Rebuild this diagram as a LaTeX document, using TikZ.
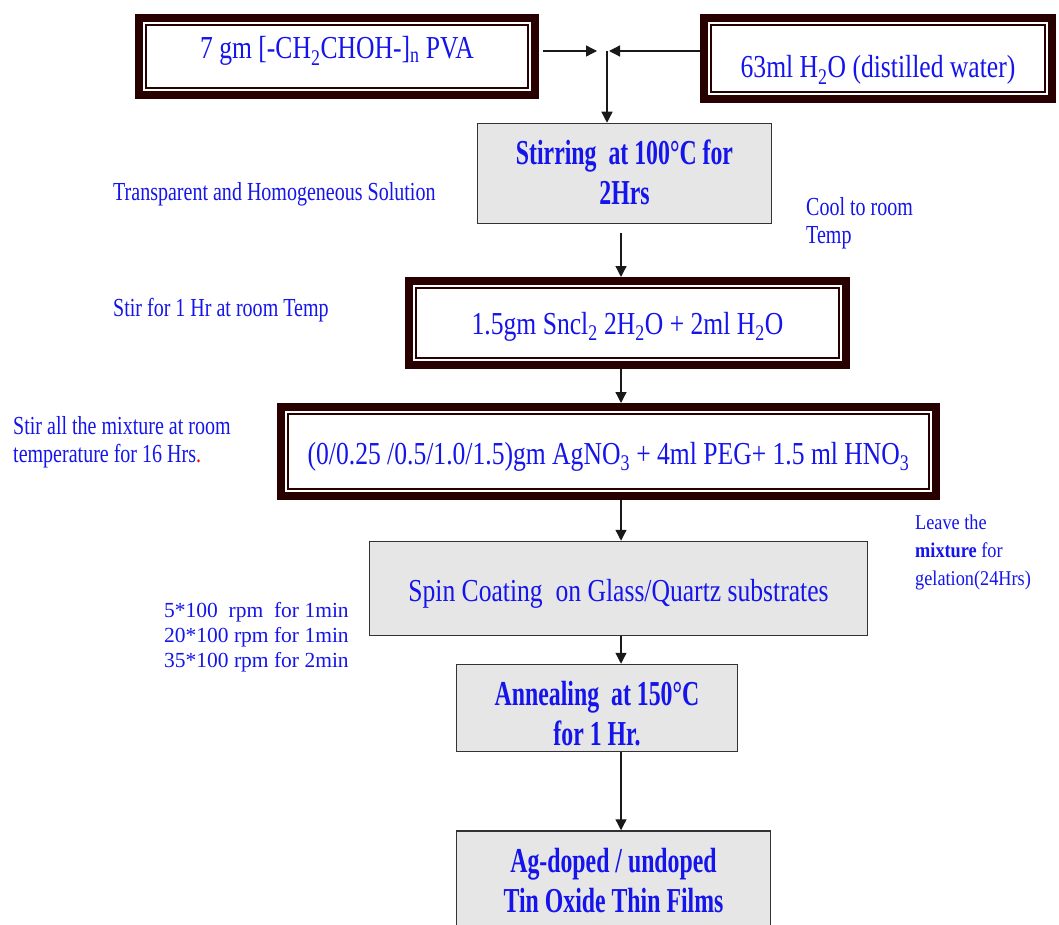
\documentclass[tikz,border=0pt]{standalone}
\usepackage{fontspec}
\setmainfont{Liberation Serif}
\newfontfamily\fA[FakeStretch=0.8]{Liberation Serif}
\newfontfamily\fB[FakeStretch=0.68]{Liberation Serif}
\newfontfamily\fC[FakeStretch=0.77]{Liberation Serif}
\newfontfamily\fD[FakeStretch=0.87]{Liberation Serif}
\usetikzlibrary{arrows.meta}
\definecolor{tb}{RGB}{20,20,235}
\definecolor{dm}{RGB}{40,0,0}
\definecolor{gb}{RGB}{230,230,230}
\newcommand\tx[2]{\raisebox{#1}[0pt][0pt]{\begin{tabular}[t]{@{}c@{}}#2\end{tabular}}}
\newcommand\tl[1]{\begin{tabular}[t]{@{}l@{}}#1\end{tabular}}
\tikzset{
 dbox/.style={draw=dm, line width=8pt, fill=white, inner sep=0pt, text=tb,
   font=\fA\fontsize{32}{38}\selectfont,
   path picture={\draw[dm,line width=1.5pt] ([shift={(7pt,-7pt)}]path picture bounding box.north west) rectangle ([shift={(-7pt,7pt)}]path picture bounding box.south east);}},
 gbox/.style={draw=black!80, line width=1.5pt, fill=gb, inner sep=0pt, text=tb},
 breg/.style={font=\fA\fontsize{32}{38}\selectfont},
 bbold/.style={font=\fB\bfseries\fontsize{35}{40}\selectfont},
 note/.style={text=tb, anchor=base west, inner sep=0pt, font=\fC\fontsize{26}{28}\selectfont},
 arr/.style={draw=black!90, line width=1.3pt, -{Triangle[length=11pt,width=11pt]}},
}
\begin{document}
\begin{tikzpicture}[x=1pt,y=-1pt]
\path[use as bounding box] (0,0) rectangle (1059,925);
\clip (0,0) rectangle (1059,925);

% top boxes
\node[dbox, minimum width=396pt, minimum height=77pt] (pva) at (337,56.5)
  {\tx{-2.5pt}{7 gm [-CH\textsubscript{2}CHOH-]\textsubscript{n} PVA}};
\node[dbox, minimum width=348pt, minimum height=81pt] (h2o) at (878,58.5)
  {\tx{-19.5pt}{63ml H\textsubscript{2}O (distilled water)}};

\node[gbox, bbold, minimum width=294pt, minimum height=100pt] (st) at (624.5,173.5)
  {\tx{8.5pt}{Stirring\ \ at 100°C for\\2Hrs}};

\node[dbox, minimum width=437pt, minimum height=84pt] (sn) at (627.5,323)
  {\tx{-11pt}{1.5gm Sncl\textsubscript{2} 2H\textsubscript{2}O + 2ml H\textsubscript{2}O}};

\node[dbox, minimum width=655pt, minimum height=89pt] (ag) at (608.5,451.5)
  {\tx{-12.5pt}{(0/0.25 /0.5/1.0/1.5)gm AgNO\textsubscript{3} + 4ml PEG+ 1.5 ml HNO\textsubscript{3}}};

\node[gbox, breg, minimum width=498pt, minimum height=94pt] (sp) at (618.5,588.5)
  {\tx{-12.5pt}{Spin Coating\ \ on Glass/Quartz substrates}};

\node[gbox, bbold, minimum width=281pt, minimum height=87pt] (an) at (597,708)
  {\tx{3pt}{Annealing\ \ at 150°C\\for 1 Hr.}};

\node[gbox, bbold, minimum width=314pt, minimum height=96pt] (fi) at (613.5,879)
  {\tx{7pt}{Ag-doped / undoped\\Tin Oxide Thin Films}};

% connectors
\coordinate (jn) at (607,51);
\coordinate (m1) at (597,51);
\coordinate (m2) at (609,51);
\coordinate (ax) at (621,0);
\draw[arr, shorten <=4pt] (pva.east |- jn) -- (m1);
\draw[arr] (h2o.west |- jn) -- (m2);
\draw[arr] (jn) -- (st.north -| jn);
\draw[arr, shorten <=9pt] (st.south -| ax) -- (sn.north -| ax);
\draw[arr] (sn.south -| ax) -- (ag.north -| ax);
\draw[arr] (ag.south -| ax) -- (sp.north -| ax);
\draw[arr] (sp.south -| ax) -- (an.north -| ax);
\draw[arr] (an.south -| ax) -- (fi.north -| ax);

% side notes
\node[note] (n1) at (113,201) {Transparent and Homogeneous Solution};
\node[note] (n2) at (113,316) {Stir for 1 Hr at room Temp};
\node[note] (n3) at (13,434) {\tl{Stir all the mixture at room\\temperature for 16 Hrs{\color{red}.}}};
\node[note] (n4) at (806,216) {\tl{Cool to room\\Temp}};
\node[note, font=\fD\fontsize{21}{28}\selectfont] (n5) at (915,529)
  {\tl{Leave the\\\textbf{mixture} for\\gelation(24Hrs)}};
\node[note, font=\fontsize{21.5}{25}\selectfont] (n6) at (164,617)
  {\tl{5*100\ \ rpm\ \ for 1min\\20*100 rpm for 1min\\35*100 rpm for 2min}};
\end{tikzpicture}
\end{document}
